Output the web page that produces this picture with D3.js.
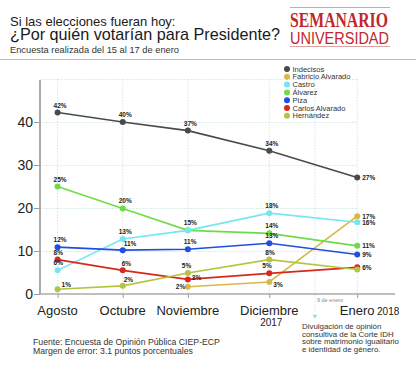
<!DOCTYPE html>
<html>
<head>
<meta charset="utf-8">
<script src="https://cdn.jsdelivr.net/npm/d3@7"></script>
<style>
  body { margin: 0; background: #fff; }
  svg text { font-family: "Liberation Sans", Arial, sans-serif; }
</style>
</head>
<body>
<div id="chart"></div>
<script>
// survey months and their place on the (uneven) time line
var months = ["Agosto", "Octubre", "Noviembre", "Diciembre", "Enero"];
var monthPos = [0, 1, 2, 3.25, 4.6];
var marchaPos = 3.95; // 9 de enero

var yTicks = [0, 10, 20, 30, 40];

var names = ["Indecisos", "Fabricio Alvarado", "Castro", "Álvarez", "Piza", "Carlos Alvarado", "Hernández"];
var colors = ["#4a4a4a", "#d8b84a", "#74e6f2", "#6ddc48", "#1f4ee0", "#d8281e", "#b5c43c"];

var indecisos = [42.2, 40, 38, 33.3, 27.1];
var fabricio  = [null, null, 1.7, 2.8, 18.1];
var castro    = [5.5, 12.8, 14.8, 18.8, 16.7];
var alvarez   = [25, 19.9, 14.8, 14.1, 11.2];
var piza      = [10.9, 10.2, 10.4, 11.8, 9.2];
var carlos    = [8, 5.5, 3.4, 4.8, 6.2];
var hernandez = [1.1, 1.9, 4.9, 8, 5.7];

// printed labels
var indecisosLbl = ["42%", "40%", "37%", "34%", "27%"];
var fabricioLbl  = [null, null, "2%", "3%", "17%"];
var castroLbl    = ["6%", "13%", "15%", "18%", "16%"];
var alvarezLbl   = ["25%", "20%", null, "14%", "11%"];
var pizaLbl      = ["12%", "11%", "11%", "13%", "9%"];
var carlosLbl    = ["8%", "6%", "3%", "5%", "6%"];
var hernandezLbl = ["1%", "2%", "5%", "8%", null];

var series = [
  {name: names[0], color: colors[0], values: indecisos, labels: indecisosLbl},
  {name: names[1], color: colors[1], values: fabricio, labels: fabricioLbl},
  {name: names[3], color: colors[3], values: alvarez, labels: alvarezLbl},
  {name: names[2], color: colors[2], values: castro, labels: castroLbl},
  {name: names[4], color: colors[4], values: piza, labels: pizaLbl},
  {name: names[5], color: colors[5], values: carlos, labels: carlosLbl},
  {name: names[6], color: colors[6], values: hernandez, labels: hernandezLbl}
];

// label placement tweaks [dx, dy]  (default: above the dot)
var lblOffset = {
  "Fabricio Alvarado|2": [-12, 2.5],
  "Fabricio Alvarado|3": [4, 5],
  "Carlos Alvarado|2": [4, 1],
  "Carlos Alvarado|3": [-7, -5],
  "Carlos Alvarado|1": [-1, -4],
  "Piza|1": [1, -4],
  "Hernández|0": [4, -2.5],
  "Hernández|1": [1, -4],
  "Hernández|2": [-6, -5]
};

var W = 416, H = 372;
var svg = d3.select("#chart").append("svg")
  .attr("width", W).attr("height", H);

// ---- header
svg.append("text").attr("x", 10).attr("y", 25.5)
  .style("font-size", "13px").attr("fill", "#1a1a1a")
  .text("Si las elecciones fueran hoy:");
svg.append("text").attr("x", 10).attr("y", 40)
  .style("font-size", "16.2px").attr("fill", "#1a1a1a")
  .text("¿Por quién votarían para Presidente?");
svg.append("text").attr("x", 10).attr("y", 53)
  .style("font-size", "9.3px").attr("fill", "#333")
  .text("Encuesta realizada del 15 al 17 de enero");
svg.append("line").attr("x1", 0).attr("x2", W).attr("y1", 59.5).attr("y2", 59.5)
  .attr("stroke", "#bdbdbd").attr("stroke-width", 1);

// logo
var red = "#c1272d";
svg.append("line").attr("x1", 290).attr("x2", 390).attr("y1", 7.5).attr("y2", 7.5)
  .attr("stroke", "#e0a0a0").attr("stroke-width", 1);
svg.append("text").attr("x", 290).attr("y", 27)
  .style("font-family", "'Liberation Serif', 'Times New Roman', serif")
  .style("font-weight", "bold").style("font-size", "22px")
  .attr("textLength", 98).attr("lengthAdjust", "spacingAndGlyphs")
  .attr("fill", red).text("SEMANARIO");
svg.append("text").attr("x", 290).attr("y", 43.5)
  .style("font-size", "16px")
  .attr("textLength", 99).attr("lengthAdjust", "spacingAndGlyphs")
  .attr("fill", red).text("UNIVERSIDAD");
svg.append("line").attr("x1", 290).attr("x2", 390).attr("y1", 46.5).attr("y2", 46.5)
  .attr("stroke", "#e0a0a0").attr("stroke-width", 1);

// ---- scales
var x = d3.scaleLinear().domain([-0.27, 5.18]).range([40, 395]);
var y = d3.scaleLinear().domain([0, 50]).range([294, 79]);

var grid = svg.append("g").attr("stroke", "#cfe8e3").attr("stroke-width", 1)
  .attr("stroke-dasharray", "1.5,1.5");
grid.selectAll(".hg").data([10, 20, 30, 40, 50]).enter().append("line")
  .attr("x1", 40).attr("x2", x(monthPos[4]))
  .attr("y1", function(d){ return y(d) + 0.5; }).attr("y2", function(d){ return y(d) + 0.5; });
grid.selectAll(".vg").data(monthPos).enter().append("line")
  .attr("x1", function(d){ return x(d); }).attr("x2", function(d){ return x(d); })
  .attr("y1", y(50)).attr("y2", y(0));
grid.append("line").attr("x1", x(marchaPos)).attr("x2", x(marchaPos))
  .attr("y1", y(50)).attr("y2", 312);

// 9 de enero marker
svg.append("text").attr("x", x(marchaPos) + 2).attr("y", 301.5)
  .style("font-size", "5.5px").attr("fill", "#8a8a8a").text("9 de enero");
svg.append("path")
  .attr("d", d3.symbol().type(d3.symbolTriangle).size(9))
  .attr("transform", "translate(" + x(marchaPos) + ",316) rotate(180)")
  .attr("fill", "#8fe8a8");

// y axis
var yAxis = svg.append("g").attr("transform", "translate(40,0)")
  .call(d3.axisLeft(y).tickValues(yTicks).tickSize(6).tickPadding(1).tickFormat(d3.format("d")));
yAxis.select(".domain").remove();
yAxis.selectAll(".tick line").attr("stroke", "#999");
yAxis.selectAll("text").style("font-size", "14px").attr("fill", "#222")
  .style("font-family", "'Liberation Sans', Arial, sans-serif");
svg.append("line").attr("x1", 40).attr("x2", 40).attr("y1", 80).attr("y2", 294)
  .attr("stroke", "#aaa").attr("stroke-width", 2);

// x axis
var xAxis = svg.append("g").attr("transform", "translate(0,294)")
  .call(d3.axisBottom(x).tickValues(monthPos).tickSize(4).tickFormat(""));
xAxis.select(".domain").remove();
xAxis.selectAll(".tick line").attr("stroke", "#999");
svg.append("line").attr("x1", 40).attr("x2", 395).attr("y1", 294).attr("y2", 294)
  .attr("stroke", "#aaa").attr("stroke-width", 1.5);

var xl = svg.append("g");
months.forEach(function(m, i) {
  var t = xl.append("text").attr("x", x(monthPos[i])).attr("y", 315)
    .attr("text-anchor", "middle").style("font-size", "13px").attr("fill", "#222").text(m);
  if (m === "Enero") {
    var w = t.node().getComputedTextLength();
    xl.append("text").attr("x", x(monthPos[i]) + w / 2 + 2.5).attr("y", 315)
      .style("font-size", "10px").attr("fill", "#222").text("2018");
  }
  if (m === "Diciembre") {
    xl.append("text").attr("x", x(monthPos[i]) + 2).attr("y", 326)
      .attr("text-anchor", "middle").style("font-size", "10px").attr("fill", "#222").text("2017");
  }
});

// ---- lines
var line = d3.line()
  .defined(function(d){ return d.v != null; })
  .x(function(d){ return x(d.p); })
  .y(function(d){ return y(d.v); });

series.forEach(function(s) {
  var pts = s.values.map(function(v, i){ return {p: monthPos[i], v: v, l: s.labels[i], i: i}; });
  var g = svg.append("g");
  g.append("path").datum(pts).attr("d", line)
    .attr("fill", "none").attr("stroke", s.color).attr("stroke-width", 1.6);
  g.selectAll("circle").data(pts.filter(function(d){ return d.v != null; })).enter()
    .append("circle")
    .attr("cx", function(d){ return x(d.p); })
    .attr("cy", function(d){ return y(d.v); })
    .attr("r", 3).attr("fill", s.color);
  s.pts = pts;
});

// data labels on top
series.forEach(function(s) {
  svg.append("g").selectAll("text")
    .data(s.pts.filter(function(d){ return d.l; })).enter()
    .append("text")
    .attr("x", function(d){
      var o = lblOffset[s.name + "|" + d.i];
      if (o) return x(d.p) + o[0];
      return d.i === 4 ? x(d.p) + 5 : x(d.p) - 4;
    })
    .attr("y", function(d){
      var o = lblOffset[s.name + "|" + d.i];
      if (o) return y(d.v) + o[1];
      return d.i === 4 ? y(d.v) + 2.5 : y(d.v) - 5;
    })
    .style("font-size", "6.5px").style("font-weight", "bold").attr("fill", "#222")
    .text(function(d){ return d.l; });
});

// ---- legend
var leg = svg.append("g").attr("transform", "translate(287,69)");
names.forEach(function(n, i) {
  leg.append("circle").attr("cx", 0).attr("cy", i * 7.8).attr("r", 3).attr("fill", colors[i]);
  leg.append("text").attr("x", 5.5).attr("y", i * 7.8).attr("dy", "0.35em")
    .style("font-size", "7.5px").attr("fill", "#333").text(n);
});

// ---- footer notes
var note = ["Divulgación de opinión", "consultiva de la Corte IDH",
            "sobre matrimonio igualitario", "e identidad de género."];
svg.append("g").selectAll("text").data(note).enter().append("text")
  .attr("x", 302).attr("y", function(d, i){ return 329 + i * 7.5; })
  .style("font-size", "7.9px").attr("fill", "#333").text(function(d){ return d; });

var fuente = ["Fuente: Encuesta de Opinión Pública CIEP-ECP", "Margen de error: 3.1 puntos porcentuales"];
svg.append("g").selectAll("text").data(fuente).enter().append("text")
  .attr("x", 33).attr("y", function(d, i){ return 345 + i * 8.5; })
  .style("font-size", "8.7px").attr("fill", "#333").text(function(d){ return d; });
</script>
</body>
</html>
